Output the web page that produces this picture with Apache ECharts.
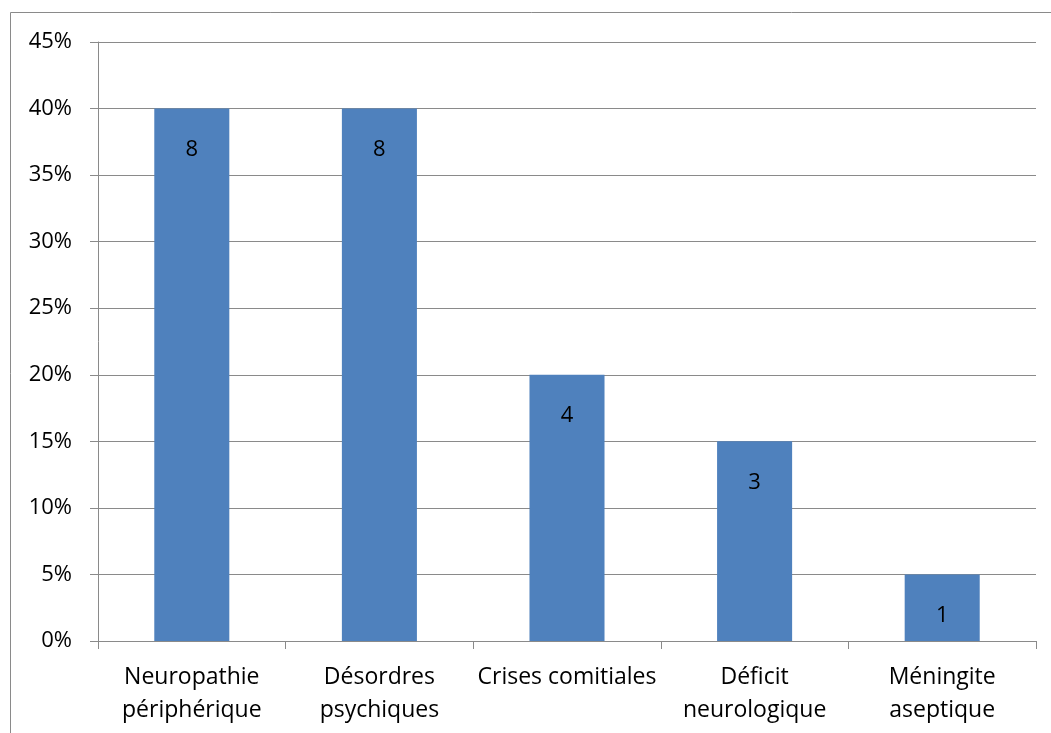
<!DOCTYPE html>
<html>
<head>
<meta charset="utf-8">
<script src="https://cdn.jsdelivr.net/npm/echarts@6/dist/echarts.min.js"></script>
<style>
  html, body { margin: 0; padding: 0; background: #fff; }
  #chart { width: 1051px; height: 733px; }
</style>
</head>
<body>
<div id="chart"></div>
<script>
// Neurological manifestations: share of patients (%) and patient counts
const categories = ['Neuropathie\npériphérique', 'Désordres\npsychiques', 'Crises comitiales', 'Déficit\nneurologique', 'Méningite\naseptique'];
const percentages = [40, 40, 20, 15, 5];
const counts = [8, 8, 4, 3, 1];
const yTicks = [0, 5, 10, 15, 20, 25, 30, 35, 40, 45];

const FONT = 'Open Sans';
const GRID_COLOR = '#8a8a8a';

const chart = echarts.init(document.getElementById('chart'));
chart.setOption({
  animation: false,
  textStyle: { fontFamily: FONT },
  graphic: [{
    type: 'rect',
    shape: { x: 10.5, y: 12.5, width: 1100, height: 800 },
    style: { fill: 'none', stroke: '#8a8a8a', lineWidth: 1 },
    silent: true
  }],
  grid: { left: 98, right: 15, top: 42, bottom: 92, containLabel: false },
  xAxis: {
    type: 'category',
    data: categories,
    axisLine: { lineStyle: { color: GRID_COLOR, width: 1 } },
    axisTick: { show: true, length: 8, alignWithLabel: false, lineStyle: { color: GRID_COLOR } },
    axisLabel: { color: '#000', fontSize: 23, fontFamily: FONT, lineHeight: 33, margin: 20, interval: 0 }
  },
  yAxis: {
    type: 'value',
    min: yTicks[0],
    max: yTicks[yTicks.length - 1],
    interval: 5,
    axisLine: { show: true, lineStyle: { color: GRID_COLOR, width: 1 } },
    axisTick: { show: true, length: 8, lineStyle: { color: GRID_COLOR } },
    splitLine: { show: true, lineStyle: { color: GRID_COLOR, width: 1 } },
    axisLabel: { color: '#000', fontSize: 22, fontFamily: FONT, margin: 26, formatter: v => v + '%' }
  },
  series: [{
    type: 'bar',
    data: percentages,
    barWidth: '40%',
    itemStyle: { color: '#4F81BD' },
    label: {
      show: true,
      position: 'insideTop',
      distance: 30,
      color: '#000',
      fontSize: 22,
      fontFamily: FONT,
      formatter: p => String(counts[p.dataIndex])
    }
  }]
});
</script>
</body>
</html>
